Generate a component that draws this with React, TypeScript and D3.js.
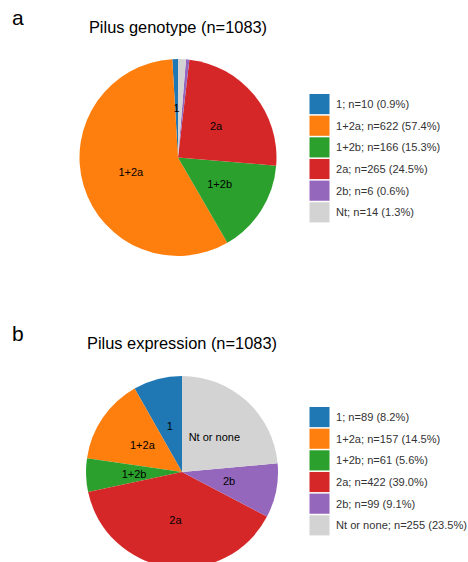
import React, { useEffect, useRef } from "react";
import * as d3 from "d3";

const genotypeLabels = ["1", "1+2a", "1+2b", "2a", "2b", "Nt"];
const genotypeCounts = [10, 622, 166, 265, 6, 14];
const genotypeShown = [true, true, true, true, false, false];

const expressionLabels = ["1", "1+2a", "1+2b", "2a", "2b", "Nt or none"];
const expressionCounts = [89, 157, 61, 422, 99, 255];
const expressionShown = [true, true, true, true, true, true];

const sliceColors = ["#1f77b4", "#ff7f0e", "#2ca02c", "#d62728", "#9467bd", "#d3d3d3"];

const FONT = "'Liberation Sans', Arial, sans-serif";

const drawPanel = (
  svg: d3.Selection<SVGSVGElement, unknown, null, undefined>,
  letter: string,
  title: string,
  labels: string[],
  counts: number[],
  shown: boolean[],
  top: number,
  cx: number,
  cy: number,
  r: number,
  legendTop: number
) => {
  const total = d3.sum(counts);
  const data = labels.map((l, i) => ({ label: l, value: counts[i], i }));

  svg
    .append("text")
    .attr("x", 12)
    .attr("y", top + 17)
    .attr("dominant-baseline", "central")
    .style("font-family", FONT)
    .style("font-size", "21px")
    .text(letter);

  svg
    .append("text")
    .attr("x", cx)
    .attr("y", top + 27)
    .attr("text-anchor", "middle")
    .attr("dominant-baseline", "central")
    .style("font-family", FONT)
    .style("font-size", "16.4px")
    .text(title);

  // counter-clockwise from 12 o'clock, like matplotlib startangle=90
  const pie = d3
    .pie<{ label: string; value: number; i: number }>()
    .sort(null)
    .value((d) => d.value)
    .startAngle(0)
    .endAngle(-2 * Math.PI);

  const arcs = pie(data);
  const arc = d3.arc<d3.PieArcDatum<any>>().innerRadius(0).outerRadius(r);
  const labelArc = d3
    .arc<d3.PieArcDatum<any>>()
    .innerRadius(r * 0.5)
    .outerRadius(r * 0.5);

  const g = svg.append("g").attr("transform", `translate(${cx},${cy})`);

  g.selectAll("path")
    .data(arcs)
    .enter()
    .append("path")
    .attr("d", (d) => arc(d)!)
    .attr("fill", (d) => sliceColors[d.data.i]);

  g.selectAll("text.lbl")
    .data(arcs.filter((d) => shown[d.data.i]))
    .enter()
    .append("text")
    .attr("class", "lbl")
    .attr("x", (d) => labelArc.centroid(d)[0])
    .attr("y", (d) => labelArc.centroid(d)[1])
    .attr("text-anchor", "middle")
    .attr("dominant-baseline", "central")
    .style("font-family", FONT)
    .style("font-size", "11px")
    .text((d) => d.data.label);

  const y = d3
    .scaleBand()
    .domain(labels)
    .range([legendTop, legendTop + 21.4 * labels.length])
    .paddingInner(0.07);

  const leg = svg.append("g");
  leg
    .selectAll("rect")
    .data(data)
    .enter()
    .append("rect")
    .attr("x", 309.5)
    .attr("y", (d) => y(d.label)!)
    .attr("width", 20)
    .attr("height", y.bandwidth())
    .attr("fill", (d) => sliceColors[d.i]);

  leg
    .selectAll("text")
    .data(data)
    .enter()
    .append("text")
    .attr("x", 336)
    .attr("y", (d) => y(d.label)! + y.bandwidth() / 2)
    .attr("dominant-baseline", "central")
    .style("font-family", FONT)
    .style("font-size", "11.1px")
    .style("fill", "#333")
    .text(
      (d) => `${d.label}; n=${d.value} (${((d.value / total) * 100).toFixed(1)}%)`
    );
};

const App: React.FC = () => {
  const ref = useRef<SVGSVGElement>(null);

  useEffect(() => {
    const svg = d3.select(ref.current!);
    svg.selectAll("*").remove();

    drawPanel(svg, "a", "Pilus genotype (n=1083)", genotypeLabels, genotypeCounts,
      genotypeShown, 0, 178, 157.5, 98.5, 94);
    drawPanel(svg, "b", "Pilus expression (n=1083)", expressionLabels, expressionCounts,
      expressionShown, 316, 182, 472, 96, 407);
  }, []);

  return (
    <svg
      ref={ref}
      width={468}
      height={562}
      style={{ position: "absolute", left: 0, top: 0, background: "#fff" }}
    />
  );
};

export default App;
